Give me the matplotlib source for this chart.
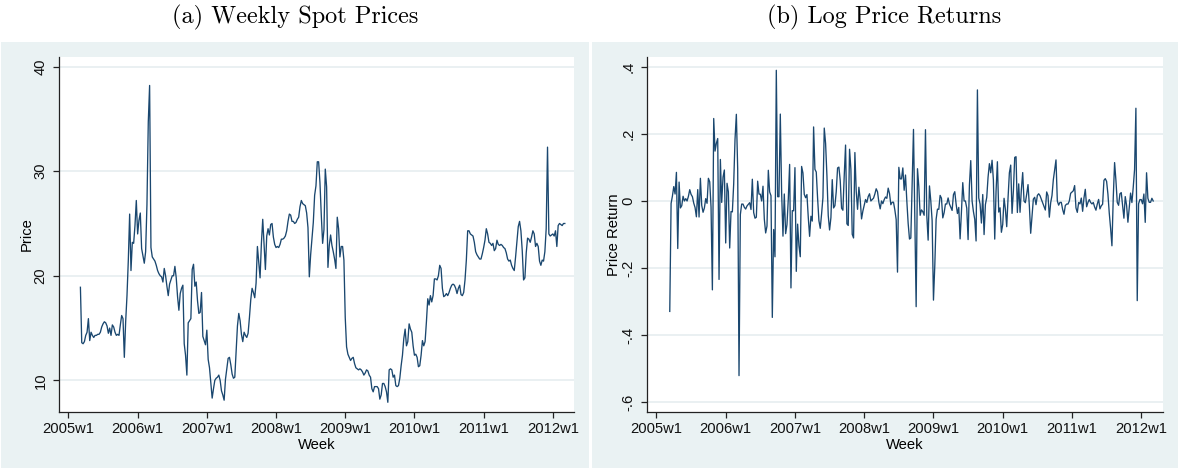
import numpy as np
import matplotlib
matplotlib.use("Agg")
import matplotlib.pyplot as plt
from matplotlib.patches import Rectangle

# weekly spot prices, first observation 2005w10, last 2012w10
price_2005 = [18.9, 13.6, 13.5, 13.7, 14.3, 14.6, 15.9, 13.8, 14.6, 14.3,
              14.1, 14.3, 14.3, 14.4, 14.4, 14.6, 15.1, 15.4, 15.6, 15.5,
              15.2, 14.5, 15.0, 14.3, 15.3, 15.1, 14.6, 14.3, 14.4, 14.3,
              15.3, 16.2, 15.9, 12.2, 15.6, 18.1, 21.5, 25.9, 20.5, 23.2,
              23.1, 24.8, 27.2]
price_2006 = [24.0, 25.3, 26.0, 22.6, 21.9, 21.2, 22.3, 26.8, 34.7, 38.2,
              22.7, 21.8, 21.6, 21.4, 21.0, 20.5, 20.2, 20.0, 19.9, 19.4,
              20.7, 20.0, 19.0, 18.1, 19.2, 19.6, 20.0, 20.0, 20.9, 19.8,
              18.0, 16.7, 18.3, 18.8, 19.1, 13.5, 12.4, 10.5, 15.5, 15.7,
              15.9, 20.6, 21.1, 19.0, 19.4, 17.6, 16.4, 16.5, 18.4, 14.2,
              13.8, 13.4]
price_2007 = [14.8, 12.0, 11.2, 9.8, 8.3, 9.2, 10.0, 10.2, 10.3, 10.5,
              10.0, 9.0, 8.6, 8.1, 10.1, 11.1, 12.1, 12.2, 11.5, 10.6,
              10.2, 10.3, 12.8, 15.2, 16.4, 15.7, 14.4, 13.7, 14.6, 14.3,
              14.1, 14.5, 16.0, 17.7, 18.8, 18.4, 17.9, 19.3, 22.8, 21.3,
              19.8, 23.1, 25.4, 23.0, 20.6, 23.8, 24.5, 23.9, 24.9, 25.0,
              23.7, 23.0]
price_2008 = [22.7, 22.8, 22.7, 23.0, 23.5, 23.5, 23.6, 23.8, 24.3, 25.2,
              25.9, 25.8, 25.2, 25.2, 25.0, 25.1, 25.4, 25.6, 26.6, 27.2,
              26.9, 26.8, 26.7, 26.0, 24.6, 19.9, 22.0, 23.5, 25.1, 27.7,
              28.6, 30.9, 30.9, 28.9, 25.8, 23.1, 24.4, 30.2, 28.5, 20.8,
              22.9, 23.9, 22.9, 22.3, 21.6, 20.7, 25.6, 24.5, 21.8, 22.8,
              22.8, 21.5]
price_2009 = [16.0, 13.2, 12.5, 12.2, 11.9, 12.1, 12.2, 11.6, 11.2, 11.1,
              11.0, 11.1, 11.0, 10.8, 10.5, 10.7, 11.0, 10.9, 10.5, 10.3,
              9.2, 8.9, 9.4, 9.4, 9.4, 9.2, 8.2, 8.6, 9.7, 9.7,
              9.4, 8.9, 7.9, 11.0, 11.1, 11.0, 10.3, 10.5, 9.5, 9.4,
              9.5, 10.2, 11.4, 12.4, 14.0, 14.9, 13.3, 13.7, 15.4, 14.9,
              14.6, 13.3]
price_2010 = [12.4, 12.5, 12.2, 11.3, 11.4, 12.4, 13.8, 13.3, 13.7, 15.6,
              17.8, 17.2, 18.1, 17.5, 18.1, 19.7, 19.7, 19.6, 20.0, 21.0,
              20.7, 18.8, 18.0, 18.1, 18.3, 18.1, 18.4, 18.8, 19.1, 19.2,
              19.1, 18.8, 18.3, 18.8, 19.1, 18.2, 18.1, 18.4, 19.6, 21.5,
              24.3, 24.3, 24.0, 23.9, 23.8, 23.2, 22.3, 22.0, 21.8, 21.6,
              21.6, 22.1]
price_2011 = [22.7, 23.4, 24.5, 24.0, 23.2, 23.1, 22.9, 23.1, 22.4, 22.6,
              23.4, 23.0, 22.9, 23.0, 22.9, 22.7, 22.6, 22.2, 21.6, 21.4,
              21.5, 21.0, 20.7, 20.5, 21.8, 23.3, 24.7, 25.2, 24.3, 22.4,
              19.6, 19.8, 22.2, 23.6, 23.5, 23.2, 23.7, 24.3, 24.0, 22.8,
              23.1, 22.8, 21.4, 21.0, 21.5, 21.4, 22.3, 24.5, 32.3, 24.0,
              23.8, 23.9]
price_2012 = [24.0, 23.8, 24.3, 22.8, 24.8, 25.0, 24.9, 24.8, 25.0, 25.0]

first_week = 10  # 2005w10
years = [2005, 2006, 2007, 2008, 2009, 2010, 2011, 2012]
year_labels = ['%dw1' % y for y in years]
price_ticks = [10, 20, 30, 40]
ret_ticks = [-0.6, -0.4, -0.2, 0, 0.2, 0.4]
ret_labels = ['-.6', '-.4', '-.2', '0', '.2', '.4']

price = np.array(price_2005 + price_2006 + price_2007 + price_2008 +
                 price_2009 + price_2010 + price_2011 + price_2012)
week = 2005 + (np.arange(len(price)) + first_week - 1) / 52.0
ret = np.diff(np.log(price))

BG = '#eaf2f3'
NAVY = '#1a476f'
GRID = '#e6eef0'
plt.rcParams['font.family'] = ['Liberation Sans', 'DejaVu Sans']

W, H = 1180, 470
fig = plt.figure(figsize=(W / 100, H / 100), dpi=100)
fig.patch.set_facecolor('white')

def px_rect(x0, y0, x1, y1):
    return [x0 / W, 1 - y1 / H, (x1 - x0) / W, (y1 - y0) / H]

for x0, x1 in [(1, 589), (592, 1178)]:
    r = px_rect(x0, 42, x1, 468)
    fig.patches.append(Rectangle((r[0], r[1]), r[2], r[3], transform=fig.transFigure,
                                 facecolor=BG, edgecolor='none', zorder=-5))

def style(ax, ticks, labels, ylim, ylabel):
    ax.set_zorder(2)
    ax.set_facecolor('white')
    for s in ['top', 'right']:
        ax.spines[s].set_visible(False)
    for s in ['left', 'bottom']:
        ax.spines[s].set_color('#222222')
        ax.spines[s].set_linewidth(0.9)
    ax.set_xlim(2004.868, 2012.31)
    ax.set_ylim(*ylim)
    ax.set_xticks(years)
    ax.set_xticklabels(year_labels)
    ax.set_yticks(ticks)
    ax.set_yticklabels(labels, rotation=90, va='center')
    ax.tick_params(direction='out', length=4.5, width=0.9, color='#222222',
                   labelsize=10.6, labelcolor='#111111', pad=3)
    ax.tick_params(axis='y', pad=4)
    ax.yaxis.grid(True, color=GRID, lw=1.2)
    ax.set_axisbelow(True)
    ax.set_xlabel('Week', fontsize=10.6, labelpad=1)
    ax.set_ylabel(ylabel, fontsize=10.6, labelpad=0)

ax1 = fig.add_axes(px_rect(59.3, 56.7, 574.3, 411.7))
ax1.plot(week, price, color=NAVY, lw=0.95)
style(ax1, price_ticks, [str(t) for t in price_ticks], (7.0, 40.95), 'Price')

ax2 = fig.add_axes(px_rect(647.3, 56.7, 1162.7, 411.7))
ax2.plot(week[1:], ret, color=NAVY, lw=0.95)
style(ax2, ret_ticks, ret_labels, (-0.628, 0.43), 'Price Return')

fig.text(295 / W, 1 - 17 / H, '(a) Weekly Spot Prices', family='cmr10',
         fontsize=17.5, ha='center', va='center')
fig.text(884 / W, 1 - 17 / H, '(b) Log Price Returns', family='cmr10',
         fontsize=17.5, ha='center', va='center')

fig.savefig('out.png', dpi=100)
